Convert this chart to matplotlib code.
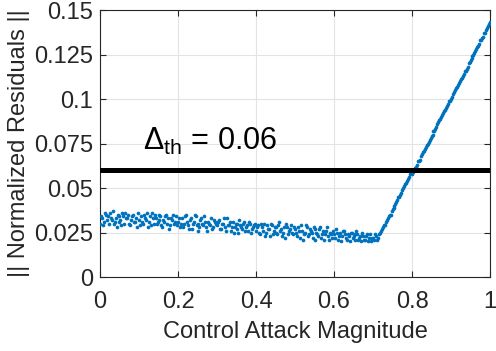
import numpy as np
import matplotlib
matplotlib.use('Agg')
from matplotlib import pyplot as plt

plt.rcParams['font.family'] = ['Liberation Sans', 'DejaVu Sans']
plt.rcParams['mathtext.fontset'] = 'custom'
plt.rcParams['mathtext.rm'] = 'Liberation Sans'
plt.rcParams['mathtext.it'] = 'Liberation Sans:italic'

font = 17

# attack magnitude (x) and normalized residual (y)
attack = [
    0.000, 0.005, 0.010, 0.015, 0.020, 0.025, 0.030, 0.035, 0.040, 0.045,
    0.050, 0.055, 0.060, 0.065, 0.070, 0.075, 0.080, 0.085, 0.090, 0.095,
    0.100, 0.105, 0.110, 0.115, 0.120, 0.125, 0.130, 0.135, 0.140, 0.145,
    0.150, 0.155, 0.160, 0.165, 0.170, 0.175, 0.180, 0.185, 0.190, 0.195,
    0.200, 0.205, 0.210, 0.215, 0.220, 0.225, 0.230, 0.235, 0.240, 0.245,
    0.250, 0.255, 0.260, 0.265, 0.270, 0.275, 0.280, 0.285, 0.290, 0.295,
    0.300, 0.305, 0.310, 0.315, 0.320, 0.325, 0.330, 0.335, 0.340, 0.345,
    0.350, 0.355, 0.360, 0.365, 0.370, 0.375, 0.380, 0.385, 0.390, 0.395,
    0.400, 0.405, 0.410, 0.415, 0.420, 0.425, 0.430, 0.435, 0.440, 0.445,
    0.450, 0.455, 0.460, 0.465, 0.470, 0.475, 0.480, 0.485, 0.490, 0.495,
    0.500, 0.505, 0.510, 0.515, 0.520, 0.525, 0.530, 0.535, 0.540, 0.545,
    0.550, 0.555, 0.560, 0.565, 0.570, 0.575, 0.580, 0.585, 0.590, 0.595,
    0.600, 0.605, 0.610, 0.615, 0.620, 0.625, 0.630, 0.635, 0.640, 0.645,
    0.650, 0.655, 0.660, 0.665, 0.670, 0.675, 0.680, 0.685, 0.690, 0.695,
    0.700, 0.705, 0.710, 0.715, 0.720, 0.725, 0.730, 0.735, 0.740, 0.745,
    0.750, 0.755, 0.760, 0.765, 0.770, 0.775, 0.780, 0.785, 0.790, 0.795,
    0.800, 0.805, 0.810, 0.815, 0.820, 0.825, 0.830, 0.835, 0.840, 0.845,
    0.850, 0.855, 0.860, 0.865, 0.870, 0.875, 0.880, 0.885, 0.890, 0.895,
    0.900, 0.905, 0.910, 0.915, 0.920, 0.925, 0.930, 0.935, 0.940, 0.945,
    0.950, 0.955, 0.960, 0.965, 0.970, 0.975, 0.980, 0.985, 0.990, 0.995,
    1.000,
    0.0025, 0.0075, 0.0125, 0.0175, 0.0225, 0.0275, 0.0325, 0.0375, 0.0425, 0.0475,
    0.0525, 0.0575, 0.0625, 0.0675, 0.0725, 0.0775, 0.0825, 0.0875, 0.0925, 0.0975,
    0.1025, 0.1075, 0.1125, 0.1175, 0.1225, 0.1275, 0.1325, 0.1375, 0.1425, 0.1475,
    0.1525, 0.1575, 0.1625, 0.1675, 0.1725, 0.1775, 0.1825, 0.1875, 0.1925, 0.1975,
    0.2025, 0.2075, 0.2125, 0.2175, 0.2225, 0.2275, 0.2325, 0.2375, 0.2425, 0.2475,
    0.2525, 0.2575, 0.2625, 0.2675, 0.2725, 0.2775, 0.2825, 0.2875, 0.2925, 0.2975,
    0.3025, 0.3075, 0.3125, 0.3175, 0.3225, 0.3275, 0.3325, 0.3375, 0.3425, 0.3475,
    0.3525, 0.3575, 0.3625, 0.3675, 0.3725, 0.3775, 0.3825, 0.3875, 0.3925, 0.3975,
    0.4025, 0.4075, 0.4125, 0.4175, 0.4225, 0.4275, 0.4325, 0.4375, 0.4425, 0.4475,
    0.4525, 0.4575, 0.4625, 0.4675, 0.4725, 0.4775, 0.4825, 0.4875, 0.4925, 0.4975,
    0.5025, 0.5075, 0.5125, 0.5175, 0.5225, 0.5275, 0.5325, 0.5375, 0.5425, 0.5475,
    0.5525, 0.5575, 0.5625, 0.5675, 0.5725, 0.5775, 0.5825, 0.5875, 0.5925, 0.5975,
    0.6025, 0.6075, 0.6125, 0.6175, 0.6225, 0.6275, 0.6325, 0.6375, 0.6425, 0.6475,
    0.6525, 0.6575, 0.6625, 0.6675, 0.6725, 0.6775, 0.6825, 0.6875, 0.6925, 0.6975,
    0.7025, 0.7075, 0.7125, 0.7175, 0.7225, 0.7275, 0.7325, 0.7375, 0.7425, 0.7475,
    0.7525, 0.7575, 0.7625, 0.7675, 0.7725, 0.7775, 0.7825, 0.7875, 0.7925, 0.7975,
    0.8025, 0.8075, 0.8125, 0.8175, 0.8225, 0.8275, 0.8325, 0.8375, 0.8425, 0.8475,
    0.8525, 0.8575, 0.8625, 0.8675, 0.8725, 0.8775, 0.8825, 0.8875, 0.8925, 0.8975,
    0.9025, 0.9075, 0.9125, 0.9175, 0.9225, 0.9275, 0.9325, 0.9375, 0.9425, 0.9475,
    0.9525, 0.9575, 0.9625, 0.9675, 0.9725, 0.9775, 0.9825, 0.9875, 0.9925, 0.9975,
]
residual = [
    0.030, 0.033, 0.031, 0.035, 0.034, 0.036, 0.032, 0.030, 0.033, 0.035,
    0.031, 0.029, 0.034, 0.036, 0.033, 0.030, 0.032, 0.035, 0.031, 0.028,
    0.032, 0.034, 0.030, 0.033, 0.036, 0.031, 0.029, 0.033, 0.035, 0.030,
    0.032, 0.034, 0.028, 0.031, 0.035, 0.033, 0.029, 0.032, 0.030, 0.034,
    0.031, 0.028, 0.033, 0.030, 0.035, 0.029, 0.032, 0.027, 0.031, 0.034,
    0.030, 0.028, 0.033, 0.029, 0.031, 0.026, 0.030, 0.033, 0.028, 0.031,
    0.029, 0.032, 0.027, 0.030, 0.028, 0.033, 0.029, 0.026, 0.031, 0.028,
    0.030, 0.025, 0.029, 0.027, 0.031, 0.028, 0.026, 0.030, 0.027, 0.029,
    0.026, 0.029, 0.024, 0.028, 0.030, 0.025, 0.027, 0.023, 0.029, 0.026,
    0.028, 0.024, 0.031, 0.027, 0.025, 0.022, 0.028, 0.026, 0.029, 0.024,
    0.027, 0.023, 0.026, 0.029, 0.021, 0.025, 0.028, 0.024, 0.026, 0.022,
    0.027, 0.025, 0.023, 0.028, 0.024, 0.021, 0.026, 0.023, 0.025, 0.022,
    0.024, 0.027, 0.021, 0.025, 0.023, 0.026, 0.022, 0.024, 0.020, 0.025,
    0.023, 0.021, 0.024, 0.022, 0.020, 0.023, 0.021, 0.024, 0.022, 0.020,
    0.022, 0.024, 0.021, 0.024, 0.026, 0.028, 0.029, 0.032, 0.034, 0.035,
    0.038, 0.040, 0.042, 0.045, 0.046, 0.049, 0.051, 0.053, 0.055, 0.058,
    0.058, 0.060, 0.062, 0.065, 0.066, 0.069, 0.071, 0.073, 0.075, 0.077,
    0.079, 0.082, 0.083, 0.086, 0.088, 0.090, 0.092, 0.094, 0.096, 0.099,
    0.100, 0.103, 0.105, 0.107, 0.109, 0.111, 0.113, 0.116, 0.117, 0.120,
    0.122, 0.124, 0.126, 0.128, 0.130, 0.133, 0.134, 0.137, 0.139, 0.141,
    0.143,
    0.034, 0.029, 0.036, 0.032, 0.030, 0.033, 0.037, 0.031, 0.028, 0.034,
    0.032, 0.036, 0.030, 0.033, 0.035, 0.029, 0.034, 0.031, 0.033, 0.036,
    0.029, 0.031, 0.035, 0.032, 0.028, 0.034, 0.036, 0.030, 0.033, 0.031,
    0.035, 0.029, 0.032, 0.034, 0.030, 0.027, 0.033, 0.035, 0.031, 0.029,
    0.033, 0.030, 0.028, 0.034, 0.031, 0.027, 0.033, 0.030, 0.035, 0.029,
    0.026, 0.032, 0.030, 0.034, 0.028, 0.031, 0.029, 0.027, 0.032, 0.030,
    0.031, 0.027, 0.030, 0.033, 0.026, 0.029, 0.031, 0.028, 0.025, 0.030,
    0.027, 0.032, 0.028, 0.030, 0.026, 0.029, 0.031, 0.025, 0.028, 0.030,
    0.028, 0.025, 0.030, 0.026, 0.023, 0.029, 0.027, 0.030, 0.024, 0.028,
    0.025, 0.029, 0.026, 0.023, 0.028, 0.030, 0.024, 0.027, 0.025, 0.028,
    0.025, 0.028, 0.022, 0.026, 0.024, 0.029, 0.023, 0.027, 0.025, 0.028,
    0.021, 0.024, 0.027, 0.022, 0.026, 0.024, 0.028, 0.021, 0.024, 0.026,
    0.022, 0.025, 0.023, 0.020, 0.026, 0.024, 0.021, 0.023, 0.025, 0.022,
    0.024, 0.026, 0.021, 0.023, 0.025, 0.021, 0.023, 0.020, 0.024, 0.022,
    0.021, 0.023, 0.022, 0.025, 0.027, 0.029, 0.031, 0.033, 0.035, 0.037,
    0.039, 0.041, 0.043, 0.045, 0.047, 0.050, 0.052, 0.054, 0.056, 0.059,
    0.059, 0.061, 0.063, 0.065, 0.068, 0.070, 0.072, 0.074, 0.076, 0.078,
    0.080, 0.082, 0.084, 0.087, 0.089, 0.091, 0.093, 0.095, 0.097, 0.099,
    0.101, 0.104, 0.106, 0.108, 0.110, 0.112, 0.114, 0.116, 0.118, 0.121,
    0.123, 0.125, 0.127, 0.129, 0.131, 0.133, 0.135, 0.137, 0.140, 0.142,
]
threshold = 0.06
x_ticks = [0, 0.2, 0.4, 0.6, 0.8, 1]
x_ticklabels = ['0', '0.2', '0.4', '0.6', '0.8', '1']
y_ticks = [0, 0.025, 0.05, 0.075, 0.1, 0.125, 0.15]
y_ticklabels = ['0', '0.025', '0.05', '0.075', '0.1', '0.125', '0.15']

axcol = '#262626'

fig = plt.figure(figsize=(4.96, 3.51), dpi=100)
ax = fig.add_axes([0.2016, 0.2108, 0.7864, 0.7607])

ax.scatter(attack, residual, s=7, color='#0072BD', linewidths=0, zorder=3)
ax.plot([0, 1], [threshold, threshold], color='k', linewidth=3.6, zorder=4)
ax.text(0.11, 0.0713, r'$\Delta_{\mathrm{th}}$ = 0.06', fontsize=22, color='k')

ax.set_xlim(0, 1)
ax.set_ylim(0, 0.15)
ax.set_xticks(x_ticks)
ax.set_xticklabels(x_ticklabels)
ax.set_yticks(y_ticks)
ax.set_yticklabels(y_ticklabels)

ax.grid(True, color='#e3e3e3', linewidth=0.8)
ax.set_axisbelow(True)
for sp in ax.spines.values():
    sp.set_color(axcol)
    sp.set_linewidth(0.8)
ax.tick_params(axis='both', which='major', direction='in', length=4, width=0.8,
               top=True, right=True, colors=axcol, labelsize=font)
ax.tick_params(axis='x', pad=10)
ax.tick_params(axis='y', pad=5)

ax.set_xlabel('Control Attack Magnitude', fontsize=font, color=axcol, labelpad=6)
ax.set_ylabel('|| Normalized Residuals ||', fontsize=font, color=axcol, labelpad=3)

plt.savefig('out.png', dpi=100)
